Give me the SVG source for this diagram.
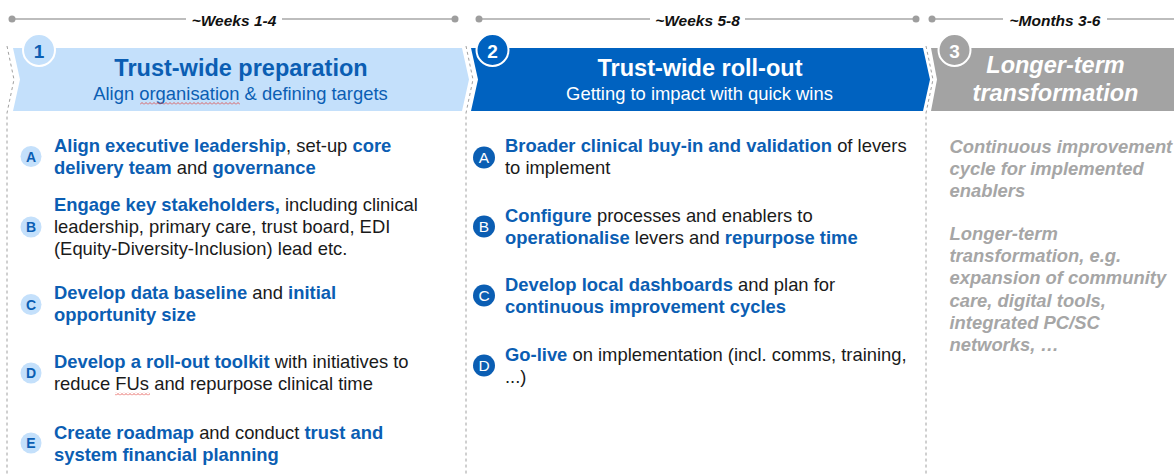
<svg xmlns="http://www.w3.org/2000/svg" width="1174" height="475" viewBox="0 0 1174 475">
  <defs>
    <pattern id="squiggle" width="4" height="3" patternUnits="userSpaceOnUse">
      <path d="M0,2.5 L2,0.5 L4,2.5" fill="none" stroke="#e0403a" stroke-width="0.8"/>
    </pattern>
  </defs>
  <style>
    text { font-family: "Liberation Sans", Arial, sans-serif; }
    .tl-line { stroke: #a8a8a8; stroke-width: 1.3; fill: none; }
    .tl-dot { fill: #9e9e9e; }
    .tl-label { font-size: 15.5px; font-weight: bold; font-style: italic; fill: #111; text-anchor: middle; }
    .sep { stroke: #a0a0a0; stroke-width: 1; stroke-dasharray: 3 3; fill: none; }
    .title { font-size: 23.5px; font-weight: bold; text-anchor: middle; }
    .sub { font-size: 18.4px; text-anchor: middle; }
    .num { font-size: 19px; font-weight: bold; text-anchor: middle; }
    .body { font-size: 18.4px; fill: #1a1a1a; }
    .b { font-weight: bold; fill: #0b5eb3; }
    .grey { font-size: 18.4px; font-weight: bold; font-style: italic; fill: #a6a6a6; }
    .badge-l { fill: #c4e0fb; }
    .badge-l-t { font-size: 14px; font-weight: bold; fill: #0b5eb3; text-anchor: middle; }
    .badge-r { fill: #0b5eb3; }
    .badge-r-t { font-size: 15.5px; fill: #fff; text-anchor: middle; }
  </style>
  <rect width="1174" height="475" fill="#fff"/>

  <!-- Timeline bars -->
  <g id="timeline">
    <path class="tl-line" d="M12,19 H186 M282,19 H455"/>
    <circle class="tl-dot" cx="12" cy="19" r="3.5"/>
    <circle class="tl-dot" cx="455" cy="19" r="3.5"/>
    <text class="tl-label" x="234" y="25.5">~Weeks 1-4</text>

    <path class="tl-line" d="M479,19 H650 M745,19 H916"/>
    <circle class="tl-dot" cx="479" cy="19" r="3.5"/>
    <circle class="tl-dot" cx="916" cy="19" r="3.5"/>
    <text class="tl-label" x="697.5" y="25.5">~Weeks 5-8</text>

    <path class="tl-line" d="M932,19 H1003 M1107,19 H1174"/>
    <circle class="tl-dot" cx="932" cy="19" r="3.5"/>
    <text class="tl-label" x="1055" y="25.5">~Months 3-6</text>
  </g>

  <!-- Dashed column separators -->
  <g id="connectors">
    <path class="sep" d="M7,46 L14,79.5 L7,113 V475"/>
    <path class="sep" d="M466,46 L473,79.5 L466,113 V475"/>
    <path class="sep" d="M926,46 L933,79.5 L926,113 V475"/>
  </g>

  <!-- Phase 1 -->
  <g id="phase-1">
    <path d="M13,48 L462,48 L469,79.5 L462,111 L13,111 L20,79.5 Z" fill="#c4e0fb"/>
    <circle cx="39" cy="50" r="16" fill="#c4e0fb" stroke="#fff" stroke-width="2"/>
    <text class="num" x="39" y="57.5" fill="#0b5eb3">1</text>
    <text class="title" x="241" y="76" fill="#0b5eb3">Trust-wide preparation</text>
    <text class="sub" x="240.5" y="99.5" fill="#0b5eb3">Align organisation &amp; defining targets</text>
    <rect x="140" y="102" width="100" height="3" fill="url(#squiggle)"/>
  </g>

  <!-- Phase 2 -->
  <g id="phase-2">
    <path d="M471,48 L923,48 L930,79.5 L923,111 L471,111 L478,79.5 Z" fill="#0062c0"/>
    <circle cx="492.5" cy="50" r="16" fill="#0062c0" stroke="#fff" stroke-width="2"/>
    <text class="num" x="492.5" y="57.5" fill="#fff">2</text>
    <text class="title" x="700" y="76" fill="#fff">Trust-wide roll-out</text>
    <text class="sub" x="699.5" y="99.5" fill="#fff">Getting to impact with quick wins</text>
  </g>

  <!-- Phase 3 -->
  <g id="phase-3">
    <path d="M931,48 L1174,48 L1174,111 L931,111 L937,79.5 Z" fill="#a3a3a3"/>
    <circle cx="954.5" cy="50" r="16" fill="#a3a3a3" stroke="#fff" stroke-width="2"/>
    <text class="num" x="954.5" y="57.5" fill="#fff">3</text>
    <text class="title" x="1055.5" y="72.5" fill="#fff" font-style="italic">Longer-term</text>
    <text class="title" x="1055.5" y="100.5" fill="#fff" font-style="italic">transformation</text>
  </g>

  <!-- Phase 1 activities -->
  <g id="phase-1-item-a">
    <circle class="badge-l" cx="31" cy="156.5" r="10.5"/>
    <text class="badge-l-t" x="31" y="161.5">A</text>
    <text class="body" x="54" y="152"><tspan class="b">Align executive leadership</tspan>, set-up <tspan class="b">core</tspan></text>
    <text class="body" x="54" y="174"><tspan class="b">delivery team</tspan> and <tspan class="b">governance</tspan></text>
  </g>
  <g id="phase-1-item-b">
    <circle class="badge-l" cx="31" cy="227" r="10.5"/>
    <text class="badge-l-t" x="31" y="232">B</text>
    <text class="body" x="54" y="211"><tspan class="b">Engage key stakeholders,</tspan> including clinical</text>
    <text class="body" x="54" y="233">leadership, primary care, trust board, EDI</text>
    <text class="body" x="54" y="255">(Equity-Diversity-Inclusion) lead etc.</text>
  </g>
  <g id="phase-1-item-c">
    <circle class="badge-l" cx="31" cy="304.5" r="10.5"/>
    <text class="badge-l-t" x="31" y="309.5">C</text>
    <text class="body" x="54" y="299"><tspan class="b">Develop data baseline</tspan> and <tspan class="b">initial</tspan></text>
    <text class="body" x="54" y="321"><tspan class="b">opportunity size</tspan></text>
  </g>
  <g id="phase-1-item-d">
    <circle class="badge-l" cx="31" cy="373" r="10.5"/>
    <text class="badge-l-t" x="31" y="378">D</text>
    <text class="body" x="54" y="368"><tspan class="b">Develop a roll-out toolkit</tspan> with initiatives to</text>
    <text class="body" x="54" y="390">reduce FUs and repurpose clinical time</text>
    <rect x="115" y="392.5" width="35" height="3" fill="url(#squiggle)"/>
  </g>
  <g id="phase-1-item-e">
    <circle class="badge-l" cx="31" cy="443" r="10.5"/>
    <text class="badge-l-t" x="31" y="448">E</text>
    <text class="body" x="54" y="439"><tspan class="b">Create roadmap</tspan> and conduct <tspan class="b">trust and</tspan></text>
    <text class="body" x="54" y="461"><tspan class="b">system financial planning</tspan></text>
  </g>

  <!-- Phase 2 activities -->
  <g id="phase-2-item-a">
    <circle class="badge-r" cx="484" cy="157.5" r="11"/>
    <text class="badge-r-t" x="484" y="163">A</text>
    <text class="body" x="505" y="152"><tspan class="b">Broader clinical buy-in and validation</tspan> of levers</text>
    <text class="body" x="505" y="174">to implement</text>
  </g>
  <g id="phase-2-item-b">
    <circle class="badge-r" cx="484" cy="226.5" r="11"/>
    <text class="badge-r-t" x="484" y="232">B</text>
    <text class="body" x="505" y="222"><tspan class="b">Configure</tspan> processes and enablers to</text>
    <text class="body" x="505" y="244"><tspan class="b">operationalise</tspan> levers and <tspan class="b">repurpose time</tspan></text>
  </g>
  <g id="phase-2-item-c">
    <circle class="badge-r" cx="484" cy="295.5" r="11"/>
    <text class="badge-r-t" x="484" y="301">C</text>
    <text class="body" x="505" y="291"><tspan class="b">Develop local dashboards</tspan> and plan for</text>
    <text class="body" x="505" y="313"><tspan class="b">continuous improvement cycles</tspan></text>
  </g>
  <g id="phase-2-item-d">
    <circle class="badge-r" cx="484" cy="365.5" r="11"/>
    <text class="badge-r-t" x="484" y="371">D</text>
    <text class="body" x="505" y="361"><tspan class="b">Go-live</tspan> on implementation (incl. comms, training,</text>
    <text class="body" x="505" y="383">...)</text>
  </g>

  <!-- Phase 3 outlook -->
  <g id="phase-3-notes">
    <text class="grey" x="949.5" y="153">Continuous improvement</text>
    <text class="grey" x="949.5" y="175">cycle for implemented</text>
    <text class="grey" x="949.5" y="197">enablers</text>
    <text class="grey" x="949.5" y="240">Longer-term</text>
    <text class="grey" x="949.5" y="262">transformation, e.g.</text>
    <text class="grey" x="949.5" y="284">expansion of community</text>
    <text class="grey" x="949.5" y="306.5">care, digital tools,</text>
    <text class="grey" x="949.5" y="328.5">integrated PC/SC</text>
    <text class="grey" x="949.5" y="350.5">networks, …</text>
  </g>
</svg>
